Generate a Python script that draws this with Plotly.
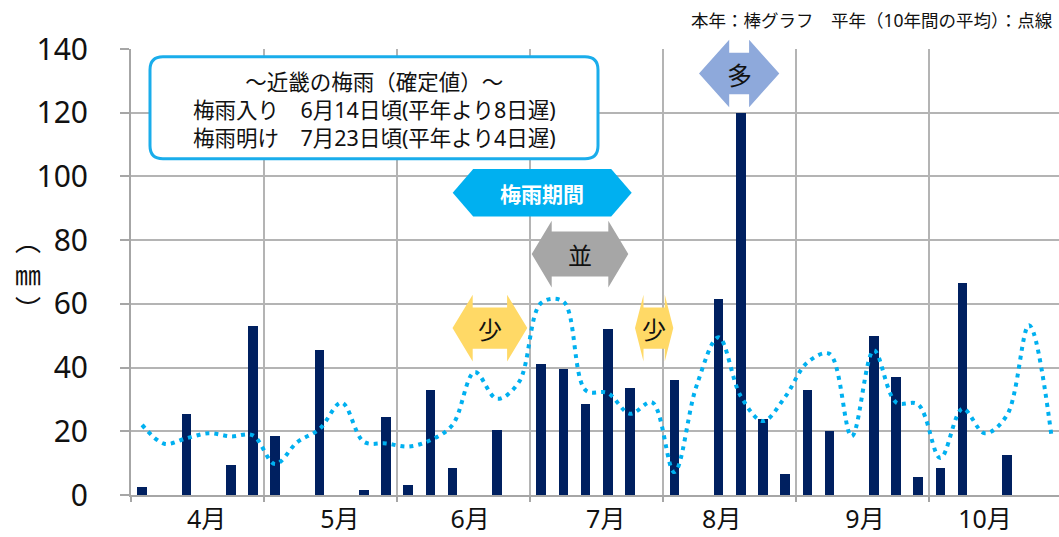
import plotly.graph_objects as go

# 半旬（5日）ごとの降水量 [mm]、4月第1半旬〜10月第6半旬
months = ["4月", "5月", "6月", "7月", "8月", "9月", "10月"]
rain_this_year = [
    2.5, 0, 25.5, 0, 9.5, 53,          # 4月
    18.5, 0, 45.5, 0, 1.5, 24.5,       # 5月
    3, 33, 8.5, 0, 20.5, 0,            # 6月
    41, 39.5, 28.5, 52, 33.5, 0,       # 7月
    36, 0, 61.5, 120, 24, 6.5,         # 8月
    33, 20, 0, 50, 37, 5.5,            # 9月
    8.5, 66.5, 0, 12.5, 0, 0,          # 10月
]
rain_normal = [
    22, 16.1, 17.8, 19.4, 18.4, 18.7,
    9.7, 16.6, 20.7, 29, 16.7, 16.2,
    15.2, 17.2, 22, 38.6, 30.2, 35.5,
    60.3, 60.7, 32.9, 32, 25.5, 29.1,
    7.2, 34.2, 49.5, 31, 23.2, 30.8,
    41.6, 44.3, 18.4, 45.4, 29.1, 28.4,
    11.6, 27.1, 19.4, 25, 53.3, 19,
]
slots = list(range(len(rain_this_year)))

W, H = 1059, 537
# plot area in canvas pixels
X0, X1 = 131, 1059
Y0, Y1 = 495.2, 49.2
FONT = "Noto Sans, Noto Sans CJK JP"
CJK = "Noto Sans CJK JP"
GRID = "#B4B4B4"
AXIS = "#A6A6A6"


def paper(x, y):
    """canvas pixel -> paper coordinates"""
    return (x - X0) / (X1 - X0), (Y0 - y) / (Y0 - Y1)


def path(points, close=True):
    parts = []
    for cmd, *pts in points:
        coords = []
        for k in range(0, len(pts), 2):
            px, py = paper(pts[k], pts[k + 1])
            coords.append(f"{px:.5f},{py:.5f}")
        parts.append(cmd + " ".join(coords))
    return " ".join(parts) + (" Z" if close else "")


def double_arrow(left, right, cy, head, half_h, half_shaft):
    pts = [
        ("M", left, cy),
        ("L", left + head, cy - half_h),
        ("L", left + head, cy - half_shaft),
        ("L", right - head, cy - half_shaft),
        ("L", right - head, cy - half_h),
        ("L", right, cy),
        ("L", right - head, cy + half_h),
        ("L", right - head, cy + half_shaft),
        ("L", left + head, cy + half_shaft),
        ("L", left + head, cy + half_h),
    ]
    return path(pts)


def rounded_rect(x0, y0, x1, y1, r):
    pts = [
        ("M", x0 + r, y0),
        ("L", x1 - r, y0),
        ("Q", x1, y0, x1, y0 + r),
        ("L", x1, y1 - r),
        ("Q", x1, y1, x1 - r, y1),
        ("L", x0 + r, y1),
        ("Q", x0, y1, x0, y1 - r),
        ("L", x0, y0 + r),
        ("Q", x0, y0, x0 + r, y0),
    ]
    return path(pts)


fig = go.Figure()
fig.add_trace(go.Bar(
    x=slots, y=rain_this_year, width=0.43,
    marker=dict(color="#002060", line=dict(width=0)),
    name="本年",
))
fig.add_trace(go.Scatter(
    x=slots, y=rain_normal, mode="lines",
    line=dict(color="#00B0F0", width=4, dash="4px,5px", shape="spline", smoothing=1),
    name="平年",
))

month_label_pos = [2.91, 8.92, 14.79, 20.91, 26.14, 32.6, 38.01]
span = (X1 - X0) / 22.175

fig.update_layout(
    width=W, height=H,
    margin=dict(l=X0, r=W - X1, t=Y1, b=H - Y0, autoexpand=False),
    paper_bgcolor="white", plot_bgcolor="white",
    showlegend=False, bargap=0,
    font=dict(family=FONT, color="#111111"),
    xaxis=dict(
        range=[-0.5, -0.5 + span], automargin=False,
        tickvals=month_label_pos, ticktext=months,
        ticks="", showgrid=False, zeroline=False,
        tickfont=dict(size=25, color="#111111", family=FONT),
        ticklabelstandoff=1,
        showline=True, linecolor=AXIS, linewidth=2,
        minor=dict(tick0=-0.5, dtick=6, showgrid=True, gridcolor=GRID, gridwidth=1.5,
                   ticks="outside", ticklen=5, tickcolor=AXIS, tickwidth=1.5),
    ),
    yaxis=dict(
        range=[0, 140], tickvals=list(range(0, 141, 20)), automargin=False,
        ticks="outside", ticklen=9, tickcolor=AXIS, tickwidth=1.5,
        showgrid=True, gridcolor=GRID, gridwidth=1.5, zeroline=False,
        showline=True, linecolor=AXIS, linewidth=2,
        tickfont=dict(size=30, color="#111111", family="Noto Sans"),
        ticklabelstandoff=26,
    ),
)

shapes = []
annotations = []


def add_text(x, y, text, size, color="#111111", bold=False, xanchor="center", family=FONT):
    px, py = paper(x, y)
    annotations.append(dict(
        x=px, y=py, xref="paper", yref="paper", text=f"<b>{text}</b>" if bold else text,
        showarrow=False, xanchor=xanchor, yanchor="middle",
        font=dict(size=size, color=color, family=family),
    ))


# 梅雨情報の枠
shapes.append(dict(type="path", path=rounded_rect(150, 57, 598, 159, 13),
                   xref="paper", yref="paper",
                   fillcolor="white", line=dict(color="#1AADEB", width=3)))
add_text(374, 110, "～近畿の梅雨（確定値）～<br>"
                   "梅雨入り　6月14日頃(平年より8日遅)<br>"
                   "梅雨明け　7月23日頃(平年より4日遅)", 21.5)

# 期間ごとの多少を示す矢印
arrows = [
    (452.7, 631.7, 193, 20.5, 23.7, 23.7, "#00B0F0", "梅雨期間", "white", True, 21),
    (531.7, 628.3, 254.3, 20, 33.4, 22.5, "#A6A6A6", "並", "#111111", False, 24),
    (452.5, 527.3, 328.3, 20.2, 33.4, 20.7, "#FFD966", "少", "#111111", False, 24),
    (635, 673.3, 328.3, 8.5, 33.4, 20.7, "#FFD966", "少", "#111111", False, 24),
    (699, 779.3, 73.7, 30.2, 33.7, 20.8, "#8EA9DB", "多", "#111111", False, 25),
]
for left, right, cy, head, hh, hs, fill, label, tcolor, bold, size in arrows:
    shapes.append(dict(type="path", path=double_arrow(left, right, cy, head, hh, hs),
                       xref="paper", yref="paper", fillcolor=fill, line=dict(width=0)))
    add_text((left + right) / 2, cy, label, size, tcolor, bold, family=CJK)

# 凡例テキスト
add_text(1055, 20, "本年：棒グラフ　平年（10年間の平均）：点線", 17.5, xanchor="right")

# 縦書きの単位
add_text(28, 274, "︵<br>㎜<br>︶", 26, family=CJK)

fig.update_layout(shapes=shapes, annotations=annotations)
fig.write_html("out.html")
